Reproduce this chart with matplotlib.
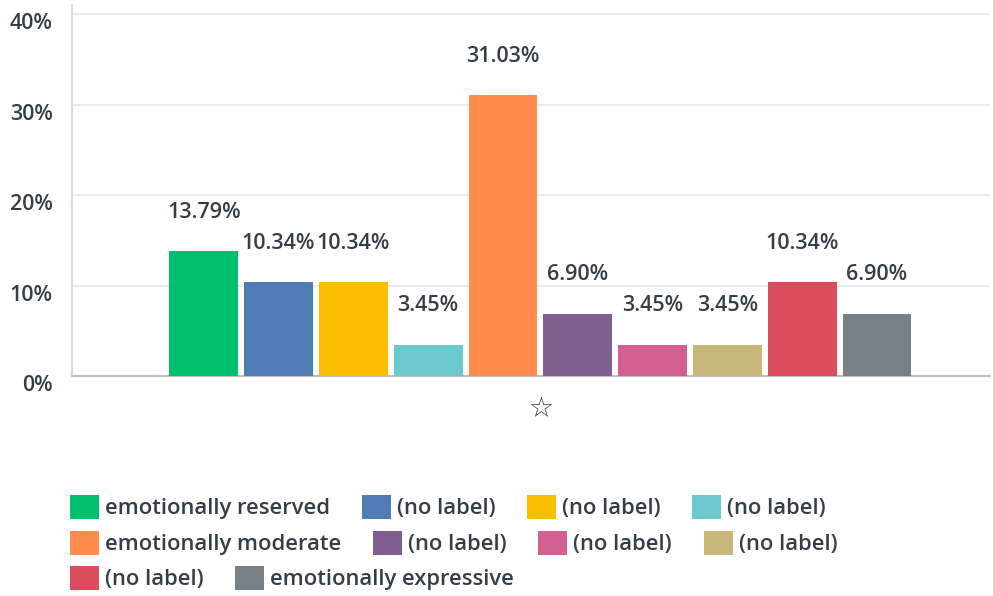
import matplotlib.pyplot as plt
import matplotlib.transforms as mtransforms
import numpy as np

plt.rcParams['font.family'] = ['Open Sans', 'DejaVu Sans']
plt.rcParams['font.weight'] = 'semibold'

labels = ['emotionally reserved', '(no label)', '(no label)', '(no label)',
          'emotionally moderate', '(no label)', '(no label)', '(no label)',
          '(no label)', 'emotionally expressive']
values = [13.79, 10.34, 10.34, 3.45, 31.03, 6.90, 3.45, 3.45, 10.34, 6.90]
colors = ['#00BF6F', '#507CB6', '#F9BE00', '#6BC8CD', '#FF8B4F',
          '#7F5F90', '#D25F90', '#C7B879', '#DB4D5C', '#768086']
category = ['☆']

txt = '#333E48'

fig = plt.figure(figsize=(9.93, 5.96), dpi=100)
# axes in pixel terms: left 72, right 990, bottom 376, top 5
ax = fig.add_axes([72/993, 1-376/596, (990-72)/993, (376-5)/596])

n = len(values)
offsets = np.arange(n) - (n-1)/2
bars = []
for i in range(n):
    b = ax.bar(offsets[i], values[i], width=0.92, color=colors[i], label=labels[i], zorder=3)
    bars.append(b)
    ax.annotate('%.2f%%' % values[i], (offsets[i], values[i]), xytext=(0, 28),
                textcoords='offset points', ha='center', va='center',
                fontsize=15.5, color=txt)

ax.set_xlim(-6.26, 6.01)
ax.set_ylim(0, 41)
ax.set_yticks([0, 10, 20, 30, 40])
ax.set_yticklabels(['0%', '10%', '20%', '30%', '40%'])
ax.set_xticks([0])
ax.set_xticklabels(category, family=['DejaVu Sans'], fontweight='bold')
ax.tick_params(axis='y', length=0, pad=14, labelsize=15.5, labelcolor=txt)
ax.tick_params(axis='x', length=0, pad=14, labelsize=20, labelcolor=txt)
off = mtransforms.ScaledTranslation(0, -7/100, fig.dpi_scale_trans)
for lab in ax.get_yticklabels():
    lab.set_transform(lab.get_transform() + off)

ax.grid(axis='y', color='#EBEBEB', linewidth=1.5, zorder=0)
for s in ['top', 'right']:
    ax.spines[s].set_visible(False)
ax.spines['left'].set_color('#D9D9D9')
ax.spines['left'].set_linewidth(1.5)
ax.spines['bottom'].set_color('#BFBFBF')
ax.spines['bottom'].set_linewidth(1.5)

rows = [[0, 1, 2, 3], [4, 5, 6, 7], [8, 9]]
row_y = [507, 543, 578]
for r, yy in zip(rows, row_y):
    leg = fig.legend([bars[i] for i in r], [labels[i] for i in r],
                     loc='center left', bbox_to_anchor=(70/993, 1-yy/596),
                     ncol=len(r), frameon=False, fontsize=15.8,
                     handlelength=1.32, handleheight=1.32, handletextpad=0.27,
                     columnspacing=1.45, borderpad=0, borderaxespad=0)
    for t in leg.get_texts():
        t.set_color(txt)

fig.savefig('out.png', dpi=100)
